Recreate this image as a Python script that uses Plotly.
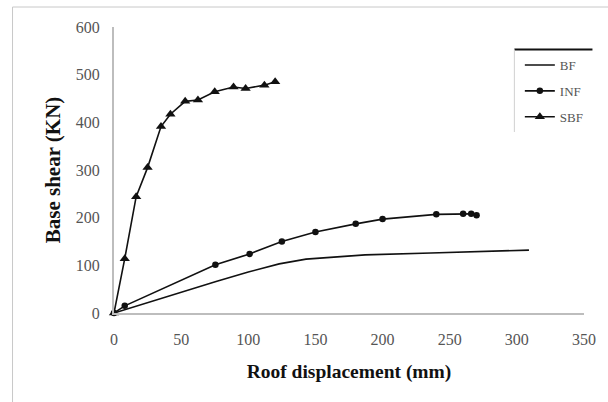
import plotly.graph_objects as go

# Data
bf_x = [0, 25, 50, 76, 100, 123, 143, 160, 187, 236, 286, 309]
bf_y = [0, 22, 44, 66, 86, 103, 113, 117, 122, 126, 130, 132]

inf_x = [0, 8, 75.5, 101, 125, 150, 180, 200, 240, 260, 266, 270]
inf_y = [0, 15, 101, 124, 150, 170, 187, 197, 207, 208, 208, 205]

sbf_x = [0, 8, 16.5, 25, 35, 42, 53, 62.5, 75, 89, 98, 112, 120]
sbf_y = [0, 114, 244, 305, 391, 417, 444, 447, 464, 474, 471, 478, 485]

x_ticks = [0, 50, 100, 150, 200, 250, 300, 350]
y_ticks = [0, 100, 200, 300, 400, 500, 600]

SERIF = "Liberation Serif, Times New Roman, serif"

fig = go.Figure()
fig.add_trace(go.Scatter(x=bf_x, y=bf_y, mode="lines", name="BF", legendgroup="a",
                         line=dict(color="#111111", width=1.6), cliponaxis=False))
fig.add_trace(go.Scatter(x=inf_x, y=inf_y, mode="lines+markers", name="INF", legendgroup="b",
                         line=dict(color="#111111", width=1.6),
                         marker=dict(symbol="circle", size=6.5, color="#111111"), cliponaxis=False))
fig.add_trace(go.Scatter(x=sbf_x, y=sbf_y, mode="lines+markers", name="SBF", legendgroup="c",
                         line=dict(color="#111111", width=1.6),
                         marker=dict(symbol="triangle-up", size=9, color="#111111"), cliponaxis=False))

L, R, T, B = 114, 21.5, 27, 89
W, H = 608, 402
pw, ph = W - L - R, H - T - B

def px(X):
    return (X - L) / pw

def py(Y):
    return (H - B - Y) / ph

shapes = [
    # outer frame (top & left)
    dict(type="line", xref="paper", yref="paper", x0=px(12), x1=px(640), y0=py(7), y1=py(7),
         line=dict(color="#c8c8c8", width=1)),
    dict(type="line", xref="paper", yref="paper", x0=px(12), x1=px(12), y0=py(7), y1=py(430),
         line=dict(color="#c8c8c8", width=1)),
    # legend frame
    dict(type="line", xref="paper", yref="paper", x0=px(516.5), x1=px(595), y0=py(49.5), y1=py(49.5),
         line=dict(color="#111111", width=2)),
    dict(type="line", xref="paper", yref="paper", x0=px(516.5), x1=px(516.5), y0=py(49.5), y1=py(132),
         line=dict(color="#d0d0d0", width=1)),
]

fig.update_layout(
    width=W, height=H,
    margin=dict(l=L, r=R, t=T, b=B),
    paper_bgcolor="white", plot_bgcolor="white",
    font=dict(family=SERIF, color="#333333"),
    showlegend=True,
    legend=dict(x=px(522), y=py(50), xanchor="left", yanchor="top",
                font=dict(family=SERIF, size=13, color="#555555"),
                bgcolor="rgba(255,255,255,0)", borderwidth=0,
                tracegroupgap=6, itemwidth=30),
    shapes=shapes,
    xaxis=dict(range=[0, 350], tickvals=x_ticks, ticktext=[str(v) for v in x_ticks],
               showgrid=False, zeroline=False, showline=True, linecolor="#bdbdbd", linewidth=2,
               ticks="outside", ticklen=11, tickcolor="rgba(0,0,0,0)",
               tickfont=dict(family=SERIF, size=16, color="#555555"),
               title=dict(text="<b>Roof displacement (mm)</b>", standoff=17,
                          font=dict(family=SERIF, size=19.5, color="#111111"))),
    yaxis=dict(range=[0, 600], tickvals=y_ticks, ticktext=[str(v) for v in y_ticks],
               showgrid=False, zeroline=False, showline=True, linecolor="#bdbdbd", linewidth=2,
               ticks="outside", ticklen=9, tickcolor="rgba(0,0,0,0)",
               tickfont=dict(family=SERIF, size=16, color="#555555"),
               title=dict(text="<b>Base shear (KN)</b>", standoff=9,
                          font=dict(family=SERIF, size=21, color="#111111"))),
)

fig.write_html("out.html")
